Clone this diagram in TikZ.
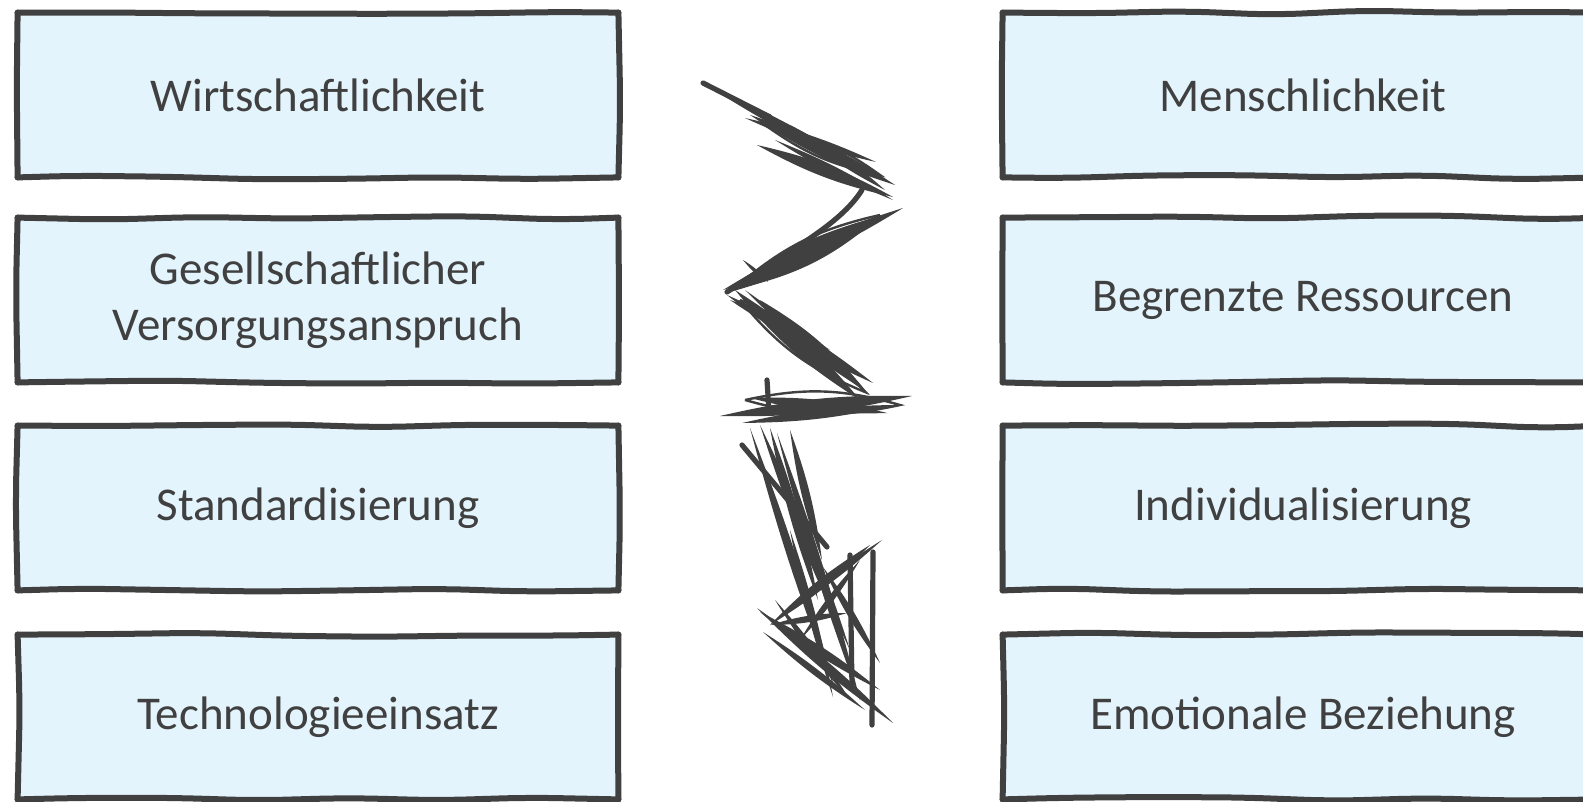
\documentclass[tikz,border=0pt]{standalone}
\usepackage{fontspec}
\setmainfont{Carlito}
\usetikzlibrary{decorations.pathmorphing}
\definecolor{ink}{HTML}{404040}
\definecolor{boxfill}{HTML}{E3F4FD}
% tapered pen stroke: a thin filled lens from #1 to #2
\newcommand\pen[3]{\fill[ink] (#1) to[bend left=#3] (#2) to[bend left=#3] (#1);}

\begin{document}
\begin{tikzpicture}[x=0.5pt,y=-0.5pt,
  sketchbox/.style={fill=boxfill,minimum width=300pt,minimum height=82pt,
    text=ink,align=center,font=\fontsize{23.5}{28}\selectfont},
  edge/.style={draw=ink,line width=3pt,line cap=round,rounded corners=14pt,
    decorate,decoration={random steps,segment length=45pt,amplitude=1.2pt}},
  scrib/.style={draw=ink,line width=2.6pt,line cap=round},
  hair/.style={draw=ink,line width=1.2pt}]
\clip (0,0) rectangle (1583,802);
\fill[white] (0,0) rectangle (1583,802);
\pgfmathsetseed{11}
% left column
\node[sketchbox] (wirt) at (318,95) {Wirtschaftlichkeit};
\node[sketchbox] (vers) at (318,300) {Gesellschaftlicher\\Versorgungsanspruch};
\node[sketchbox] (stand) at (318,508) {Standardisierung};
\node[sketchbox] (tech) at (318,717) {Technologieeinsatz};
% right column, runs off the page
\node[sketchbox] (mensch) at (1303,95) {Menschlichkeit};
\node[sketchbox] (ress) at (1303,300) {Begrenzte Ressourcen};
\node[sketchbox] (indiv) at (1303,508) {Individualisierung};
\node[sketchbox] (emo) at (1303,717) {Emotionale Beziehung};
% wobbly hand-drawn borders
\foreach \n in {wirt,vers,stand,tech,mensch,ress,indiv,emo}{
  \draw[edge] (\n.north west) -- (\n.north east);
  \draw[edge] (\n.north east) -- (\n.south east);
  \draw[edge] (\n.south east) -- (\n.south west);
  \draw[edge] (\n.south west) -- (\n.north west);
}
% scribbled zigzag between the columns
\draw[scrib] (703,83) -- (770,117);
\pen{703,83}{880,178}{4}
\pen{750,115}{895,185}{8}
\pen{757,145}{893,197}{8}
\pen{745,118}{876,162}{6}
\pen{775,140}{893,200}{5}
\pen{790,125}{885,190}{7}
\draw[hair] (765,125) to[bend left=12] (880,175) to[bend left=12] (765,125);
\draw[scrib] (862,190) .. controls (840,225) and (790,250) .. (727,292);
\pen{903,208}{723,290}{7}
\pen{883,215}{730,292}{11}
\pen{895,212}{740,285}{5}
\pen{860,222}{750,275}{9}
\pen{743,260}{768,282}{10}
\draw[hair] (880,215) to[bend left=14] (735,288) to[bend left=14] (880,215);
\pen{727,295}{873,383}{7}
\pen{735,290}{860,400}{9}
\pen{745,290}{870,395}{5}
\pen{730,300}{830,350}{8}
\pen{760,300}{865,390}{10}
\draw[hair] (740,300) to[bend left=14] (865,392) to[bend left=14] (740,300);
\pen{720,416}{912,396}{7}
\pen{750,398}{887,413}{8}
\pen{742,423}{895,405}{6}
\pen{760,412}{880,400}{9}
\draw[hair] (745,400) to[bend left=14] (900,405) to[bend left=14] (745,400);
\draw[scrib] (767,380) -- (769,412);
\draw[scrib] (742,445) -- (827,547);
\pen{750,428}{835,690}{3}
\pen{777,433}{860,700}{3}
\pen{760,425}{850,650}{4}
\pen{790,430}{822,560}{6}
\pen{770,428}{818,600}{5}
% arrow head
\pen{757,608}{893,723}{5}
\pen{763,632}{865,710}{5}
\pen{780,617}{882,540}{5}
\pen{770,625}{870,545}{7}
\pen{790,530}{833,697}{4}
\pen{770,625}{847,613}{8}
\pen{823,567}{880,663}{6}
\pen{760,612}{880,690}{6}
\pen{800,640}{860,560}{6}
\pen{775,600}{850,700}{5}
\draw[scrib] (850,555) -- (852,688);
\draw[scrib] (873,552) -- (872,725);
\end{tikzpicture}
\end{document}
